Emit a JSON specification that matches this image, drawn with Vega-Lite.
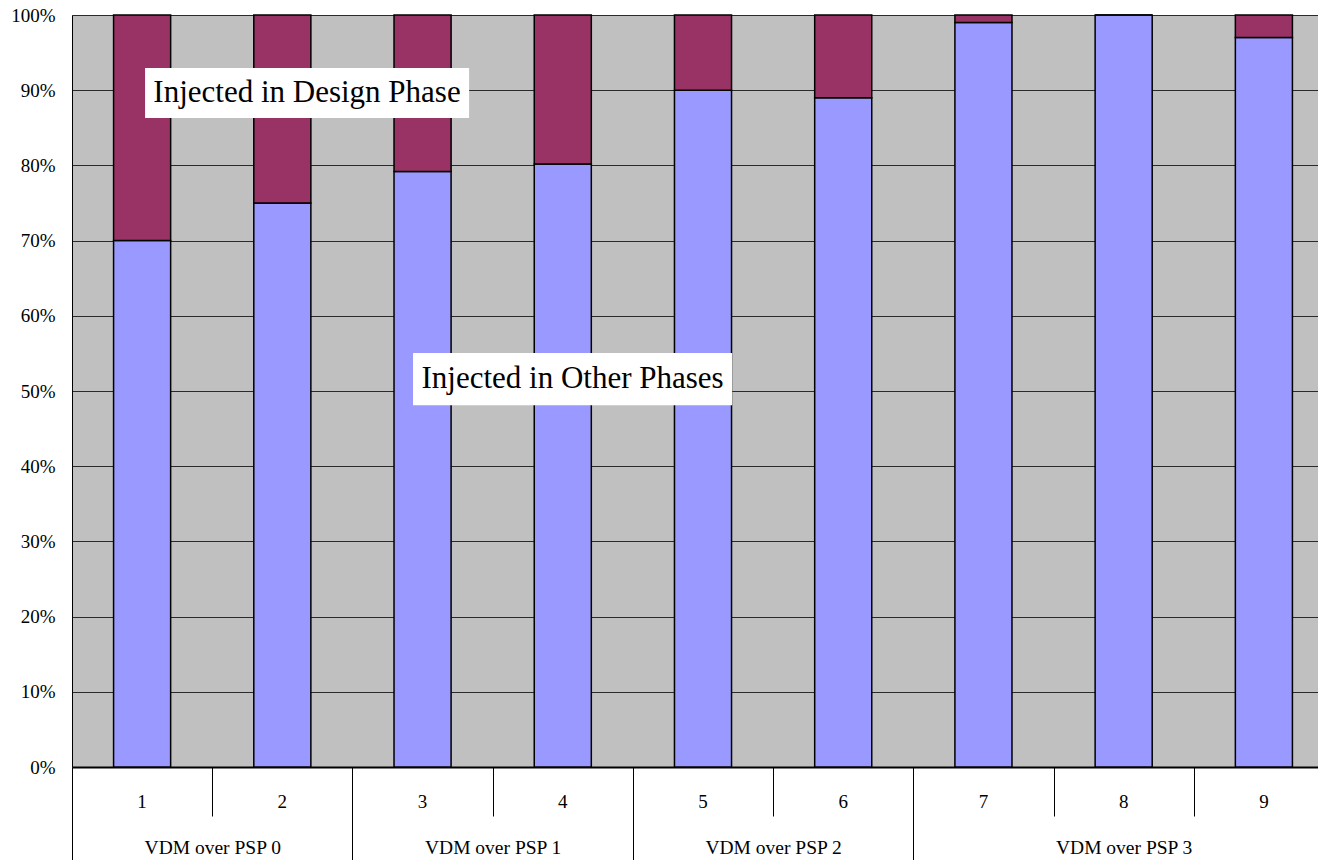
{
  "$schema": "https://vega.github.io/schema/vega-lite/v6.json",
  "width": 1246,
  "height": 752,
  "autosize": {"type": "none"},
  "padding": {"left": 72, "top": 15, "right": 0, "bottom": 93},
  "background": "white",
  "config": {
    "view": {"fill": "#C0C0C0", "stroke": null},
    "font": "Liberation Serif",
    "axis": {"labelFont": "Liberation Serif", "labelFontSize": 19, "labelColor": "black", "titleFont": "Liberation Serif"}
  },
  "datasets": {
    "shares": [
      {"run": "1", "phase": "Injected in Other Phases", "pct": 70},
      {"run": "1", "phase": "Injected in Design Phase", "pct": 30},
      {"run": "2", "phase": "Injected in Other Phases", "pct": 75},
      {"run": "2", "phase": "Injected in Design Phase", "pct": 25},
      {"run": "3", "phase": "Injected in Other Phases", "pct": 79.2},
      {"run": "3", "phase": "Injected in Design Phase", "pct": 20.8},
      {"run": "4", "phase": "Injected in Other Phases", "pct": 80.2},
      {"run": "4", "phase": "Injected in Design Phase", "pct": 19.8},
      {"run": "5", "phase": "Injected in Other Phases", "pct": 90},
      {"run": "5", "phase": "Injected in Design Phase", "pct": 10},
      {"run": "6", "phase": "Injected in Other Phases", "pct": 89},
      {"run": "6", "phase": "Injected in Design Phase", "pct": 11},
      {"run": "7", "phase": "Injected in Other Phases", "pct": 99},
      {"run": "7", "phase": "Injected in Design Phase", "pct": 1},
      {"run": "8", "phase": "Injected in Other Phases", "pct": 100},
      {"run": "8", "phase": "Injected in Design Phase", "pct": 0},
      {"run": "9", "phase": "Injected in Other Phases", "pct": 97},
      {"run": "9", "phase": "Injected in Design Phase", "pct": 3}
    ],
    "notes": [
      {"label": "Injected in Design Phase", "x1": 0.521, "x2": 2.832, "xc": 1.676, "y1": 92.95, "y2": 86.3, "yc": 89.6},
      {"label": "Injected in Other Phases", "x1": 2.432, "x2": 4.708, "xc": 3.57, "y1": 55.05, "y2": 48.1, "yc": 51.6}
    ]
  },
  "layer": [
    {
      "data": {"name": "shares"},
      "mark": {"type": "bar", "stroke": "black", "strokeWidth": 1.5},
      "encoding": {
        "x": {
          "field": "run",
          "type": "ordinal",
          "scale": {"range": [0, 1262], "paddingInner": 0.593, "paddingOuter": 0.2965},
          "axis": {
            "title": null,
            "labelAngle": 0,
            "labelFontSize": 19,
            "ticks": false,
            "labelPadding": 25,
            "domainColor": "black",
            "domainWidth": 2,
            "grid": false
          }
        },
        "y": {
          "field": "pct",
          "type": "quantitative",
          "stack": "zero",
          "scale": {"domain": [0, 100], "nice": false},
          "axis": {
            "title": null,
            "values": [0, 10, 20, 30, 40, 50, 60, 70, 80, 90, 100],
            "labelExpr": "datum.value + '%'",
            "labelFontSize": 19,
            "grid": true,
            "gridColor": "#2a2a2a",
            "gridWidth": 1,
            "ticks": false,
            "labelPadding": 17,
            "domainColor": "black",
            "domainWidth": 1
          }
        },
        "color": {
          "field": "phase",
          "type": "nominal",
          "scale": {"domain": ["Injected in Other Phases", "Injected in Design Phase"], "range": ["#9999FF", "#993366"]},
          "legend": null
        },
        "order": {"field": "phase", "sort": "descending"}
      }
    },
    {
      "data": {"name": "notes"},
      "encoding": {
        "x": {
          "field": "x1",
          "type": "quantitative",
          "scale": {"domain": [0, 9], "range": [0, 1262], "nice": false, "zero": false},
          "axis": {
            "orient": "bottom",
            "title": null,
            "values": [0, 1, 2, 3, 4, 5, 6, 7, 7.5, 8],
            "labelExpr": "datum.value == 1 ? 'VDM over PSP 0' : datum.value == 3 ? 'VDM over PSP 1' : datum.value == 5 ? 'VDM over PSP 2' : datum.value == 7.5 ? 'VDM over PSP 3' : ''",
            "labelFontSize": 19.5,
            "domain": false,
            "grid": false,
            "tickSize": {"condition": {"test": "datum.value == 0 || datum.value == 2 || datum.value == 4 || datum.value == 6", "value": 93}, "value": 49},
            "tickColor": "black",
            "tickWidth": 1,
            "tickOpacity": {"condition": {"test": "datum.value == 7.5", "value": 0}, "value": 1},
            "labelPadding": 22,
            "labelFlush": false,
            "labelOverlap": false
          }
        }
      },
      "layer": [
        {
          "mark": {"type": "rect", "fill": "white", "stroke": null},
          "encoding": {
            "x2": {"field": "x2"},
            "y": {"field": "y1", "type": "quantitative", "title": null},
            "y2": {"field": "y2"}
          }
        },
        {
          "mark": {"type": "text", "font": "Liberation Serif", "fontSize": 31, "color": "black", "align": "center", "baseline": "middle"},
          "encoding": {
            "x": {"field": "xc", "type": "quantitative"},
            "y": {"field": "yc", "type": "quantitative", "title": null},
            "text": {"field": "label"}
          }
        }
      ]
    }
  ],
  "resolve": {"scale": {"x": "independent"}, "axis": {"x": "independent"}}
}
